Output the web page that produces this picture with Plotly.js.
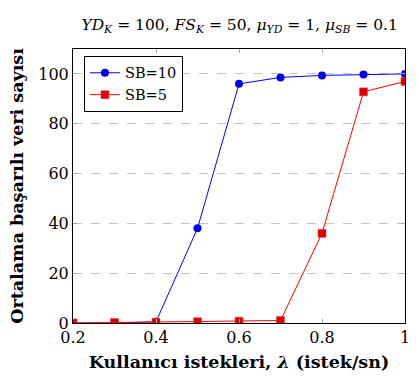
<!DOCTYPE html>
<html><head><meta charset="utf-8">
<script src="https://cdn.plot.ly/plotly-3.0.1.min.js"></script>
<style>html,body{margin:0;padding:0;background:#fff;}#c{width:419px;height:378px;}</style>
</head><body><div id="c"></div>
<script>
var lambdaVals = [0.2, 0.3, 0.4, 0.5, 0.6, 0.7, 0.8, 0.9, 1.0];
var sb10 = [0, 0, 0.5, 38, 96, 98.6, 99.4, 99.8, 100];
var sb5 = [0, 0.2, 0.3, 0.5, 0.7, 1.0, 36, 92.8, 97];
var seriesNames = ['SB=10', 'SB=5'];
var xTicks = [0.2, 0.4, 0.6, 0.8, 1];
var yTicks = [0, 20, 40, 60, 80, 100];

var serif = '"DejaVu Serif", serif';
var traces = [
  {x: lambdaVals, y: sb10, name: seriesNames[0], mode: 'lines+markers', type: 'scatter',
   line: {color: '#0000ff', width: 1}, marker: {symbol: 'circle', size: 8, color: '#0000e6'}},
  {x: lambdaVals, y: sb5, name: seriesNames[1], mode: 'lines+markers', type: 'scatter',
   line: {color: '#ff0000', width: 1}, marker: {symbol: 'square', size: 8, color: '#dd0000', line: {color: '#ff3333', width: 0.5}}}
];
var layout = {
  width: 419, height: 378,
  margin: {l: 73, r: 14, t: 49, b: 55},
  paper_bgcolor: '#fff', plot_bgcolor: '#fff',
  font: {family: serif, size: 15, color: '#000'},
  showlegend: true,
  legend: {x: 0.033, y: 0.975, xanchor: 'left', yanchor: 'top', bordercolor: '#000', borderwidth: 1,
           bgcolor: '#fff', font: {family: serif, size: 14.5}, tracegroupgap: 0},
  title: {text: '<i>YD</i><sub><i>K</i></sub> = 100, <i>FS</i><sub><i>K</i></sub> = 50, <i>μ</i><sub><i>YD</i></sub> = 1, <i>μ</i><sub><i>SB</i></sub> = 0.1',
          x: 0.572, xanchor: 'center', y: 0.935, yanchor: 'middle', font: {family: serif, size: 15.5}},
  xaxis: {range: [0.2, 1], tickvals: xTicks, ticktext: xTicks.map(String), showgrid: false, zeroline: false,
          showline: true, linecolor: '#000', linewidth: 1, mirror: 'ticks', ticks: 'inside', ticklen: 4,
          tickcolor: '#aaa', tickfont: {family: serif, size: 16},
          title: {text: '<b>Kullanıcı istekleri, <i>λ</i> (istek/sn)</b>', font: {family: serif, size: 17.5}, standoff: 9}},
  yaxis: {range: [0, 110], tickvals: yTicks, showgrid: true, griddash: 'dash', gridcolor: '#c4c4c4', gridwidth: 1,
          zeroline: false, showline: true, linecolor: '#000', linewidth: 1, mirror: 'ticks', ticks: 'inside', ticklen: 4,
          tickcolor: '#aaa', tickfont: {family: serif, size: 16},
          title: {text: '<b>Ortalama başarılı veri sayısı</b>', font: {family: serif, size: 17.5}, standoff: 10}}
};
Plotly.newPlot('c', traces, layout, {displayModeBar: false, staticPlot: true});
</script></body></html>
